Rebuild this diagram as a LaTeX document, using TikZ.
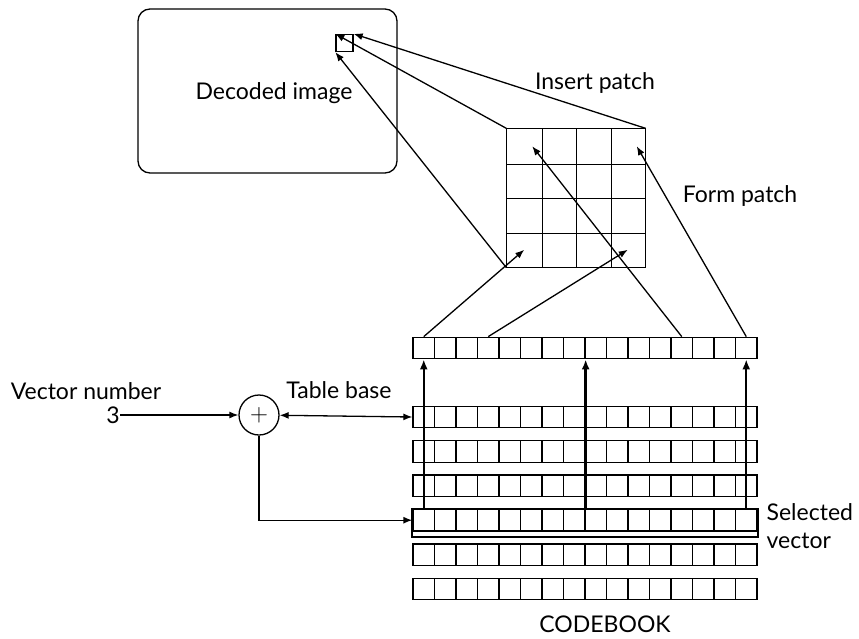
\documentclass[tikz,border=0pt]{standalone}
\usepackage{fontspec}
\setmainfont{Lato}
\usetikzlibrary{arrows.meta,positioning,calc}

\tikzset{
  cell/.style={rectangle, draw, minimum width=21.5pt, minimum height=21.5pt, inner sep=0pt},
  pcell/.style={rectangle, minimum size=34.5pt, inner sep=0pt},
  lbl/.style={font=\fontsize{23}{28}\selectfont, inner sep=0pt},
  thin arrow/.style={-{Latex[length=9pt,width=7pt]}, line width=1.3pt},
  thick arrow/.style={-{Latex[length=10pt,width=8pt]}, line width=2.4pt}
}

\begin{document}
\begin{tikzpicture}[x=1pt, y=-1pt, line width=1.3pt]
    \useasboundingbox (0,0) rectangle (859,638);

    % decoded image and the block being filled
    \node[draw, rounded corners=12pt, minimum width=259pt, minimum height=164pt] (img) at (267.5,91) {};
    \node[lbl] (imgname) at (274,93) {Decoded image};
    \node[draw, minimum size=17pt, inner sep=0pt] (blk) at (344.5,43) {};

    % 4x4 patch, grid lines drawn once
    \foreach \r in {1,...,4}
        \foreach \c in {1,...,4}
            \node[pcell] (p-\r-\c) at ({507+(\c-0.5)*34.5}, {129+(\r-0.5)*34.5}) {};
    \draw (p-1-1.north west) rectangle (p-4-4.south east);
    \foreach \k in {1,2,3} {
        \draw (p-1-\k.north east) -- (p-4-\k.south east);
        \draw (p-\k-1.south west) -- (p-\k-4.south east);
    }

    % vector that forms the patch
    \foreach \i in {1,...,16}
        \node[cell] (fv-\i) at ({413+(\i-0.5)*21.5}, 348) {};

    % codebook rows, row 4 is the selected one
    \foreach \r in {1,...,6}
        \foreach \i in {1,...,16}
            \node[cell] (cb-\r-\i) at ({413+(\i-0.5)*21.5}, {417+(\r-1)*34.4}) {};
    \draw[line width=2.2pt] (cb-4-1.north west) rectangle ($(cb-4-16.south east)+(0,5)$);

    % adder
    \node[circle, draw, minimum size=40pt, inner sep=0pt, font=\fontsize{25}{25}\selectfont] (adder) at (259,415) {$+$};
    \node[lbl] (num) at (113,415) {3};
    \node[lbl] (vecnum) at (86,391) {Vector number};
    \node[lbl] (base) at (339,390) {Table base};

    \draw[thin arrow] (num) -- (adder);
    \draw[{Latex[length=9pt,width=7pt]}-{Latex[length=9pt,width=7pt]}] (adder) -- (cb-1-1.west);
    \draw[thin arrow] (adder.south) |- (cb-4-1.west);

    % copy selected vector up
    \draw[thick arrow] (cb-4-1.north) -- (fv-1.south);
    \draw[thick arrow] (cb-4-8.north east) -- (fv-8.south east);
    \draw[thick arrow] (cb-4-16.north) -- (fv-16.south);

    % form patch
    \draw[thin arrow] (fv-1.north) -- (p-4-1.center);
    \draw[thin arrow] (fv-4.north) -- (p-4-4.center);
    \draw[thin arrow] (fv-13.north) -- ($(p-1-1.center)+(8,0)$);
    \draw[thin arrow] (fv-16.north) -- ($(p-1-4.center)+(9,0)$);

    % insert patch
    \draw[thin arrow] (p-1-4.north east) -- (blk.north east);
    \draw[thin arrow] (p-1-1.north west) -- (blk.north west);
    \draw[thin arrow] (p-4-1.south west) -- (blk.south west);

    \node[lbl] (ins) at (595,83) {Insert patch};
    \node[lbl] (form) at (740,196) {Form patch};
    \node[lbl, anchor=west, align=left] (sel) at (766,526) {Selected\\vector};
    \node[lbl] (cbname) at (605,624) {CODEBOOK};
\end{tikzpicture}
\end{document}
